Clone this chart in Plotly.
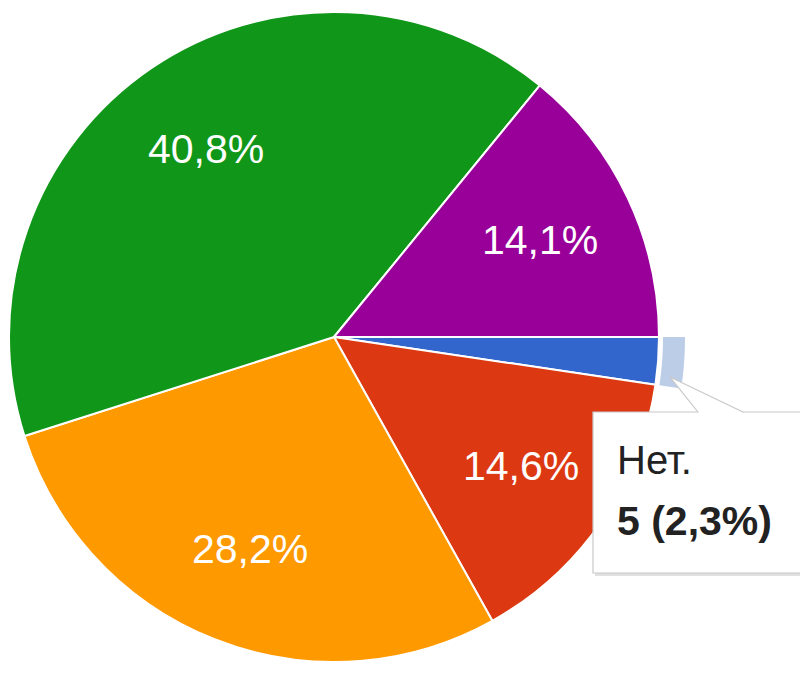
import math
import plotly.graph_objects as go

# ---- data ----
labels = ["Нет.", "Вариант 2", "Вариант 3", "Вариант 4", "Вариант 5"]
counts = [5, 31, 60, 87, 30]
colors = ["#3366cc", "#dc3912", "#ff9900", "#109618", "#990099"]
highlight_index = 0  # slice with tooltip ("Нет.")

W, H = 808, 678
OFF = 8                      # page body margin of the html page
CX, CY, R = 334, 337, 325    # pie centre / radius in screen px
LABEL_FRAC = 0.70
FONT = "Arial, Liberation Sans, sans-serif"

total = sum(counts)
fracs = [c / total for c in counts]


def px(x, y):
    """screen px -> paper coords"""
    return (x - OFF) / W, 1 - (y - OFF) / H


fig = go.Figure()
fig.add_trace(go.Pie(
    labels=labels,
    values=counts,
    sort=False,
    direction="clockwise",
    rotation=90,
    marker=dict(colors=colors, line=dict(color="white", width=2)),
    textinfo="none",
    hoverinfo="skip",
    showlegend=False,
    domain=dict(x=[px(CX - R, 0)[0], px(CX + R, 0)[0]],
                y=[px(0, CY + R)[1], px(0, CY - R)[1]]),
))

# percentage labels at the middle angle of each slice
cum = 0.0
for f in fracs:
    mid = math.radians((cum + f / 2) * 360)  # clockwise from 3 o'clock
    cum += f
    if f < 0.05:
        continue
    lx = CX + LABEL_FRAC * R * math.cos(mid)
    ly = CY + LABEL_FRAC * R * math.sin(mid)
    x, y = px(lx, ly)
    fig.add_annotation(x=x, y=y, xref="paper", yref="paper", showarrow=False,
                       xanchor="center", yanchor="middle",
                       text=f"{f * 100:.1f}%".replace(".", ","),
                       font=dict(family=FONT, size=41, color="white"))

# highlight ring around the selected slice (angles derived from data)
start = sum(fracs[:highlight_index]) * 360
end = start + fracs[highlight_index] * 360
r_in, r_out = R + 4, R + 26
pts = []
n = 12
for i in range(n + 1):
    a = math.radians(start + (end - start) * i / n)
    pts.append((CX + r_out * math.cos(a), CY + r_out * math.sin(a)))
for i in range(n, -1, -1):
    a = math.radians(start + (end - start) * i / n)
    pts.append((CX + r_in * math.cos(a), CY + r_in * math.sin(a)))
path = "M " + " L ".join("{:.5f},{:.5f}".format(*px(x, y)) for x, y in pts) + " Z"
fig.add_shape(type="path", path=path, xref="paper", yref="paper",
              fillcolor="#bccde8", line=dict(width=0))

# tooltip box
bx0, by0, bx1, by1 = 593, 412, 803, 573
fig.add_shape(type="rect", xref="paper", yref="paper",
              x0=px(bx0 + 2, 0)[0], x1=px(bx1 + 2, 0)[0],
              y0=px(0, by1 + 3)[1], y1=px(0, by0 + 3)[1],
              fillcolor="rgba(0,0,0,0.12)", line=dict(width=0))
fig.add_shape(type="rect", xref="paper", yref="paper",
              x0=px(bx0, 0)[0], x1=px(bx1, 0)[0],
              y0=px(0, by1)[1], y1=px(0, by0)[1],
              fillcolor="white", line=dict(color="#c8c8c8", width=1.2))
# pointer
apex = (670, 377)
bl, br = (698, by0), (743, by0)
tri = "M {:.5f},{:.5f} L {:.5f},{:.5f} L {:.5f},{:.5f}".format(*px(*bl), *px(*apex), *px(*br))
fig.add_shape(type="path", path=tri + " Z", xref="paper", yref="paper",
              fillcolor="white", line=dict(width=0))
fig.add_shape(type="path",
              path="M {:.5f},{:.5f} L {:.5f},{:.5f}".format(*px(bl[0] + 1, by0 + 1), *px(br[0] - 1, by0 + 1)),
              xref="paper", yref="paper", line=dict(color="white", width=3))
fig.add_shape(type="path", path=tri, xref="paper", yref="paper",
              line=dict(color="#c8c8c8", width=1.2))

pct = fracs[highlight_index] * 100
fig.add_annotation(x=px(615, 0)[0], y=px(0, 460)[1], xref="paper", yref="paper",
                   xanchor="left", yanchor="middle", showarrow=False,
                   text=labels[highlight_index],
                   font=dict(family=FONT, size=40, color="#222222"))
fig.add_annotation(x=px(615, 0)[0], y=px(0, 521)[1], xref="paper", yref="paper",
                   xanchor="left", yanchor="middle", showarrow=False,
                   text=f"<b>{counts[highlight_index]} ({pct:.1f}%)</b>".replace(".", ","),
                   font=dict(family=FONT, size=41, color="#222222"))

fig.update_layout(
    width=W, height=H,
    margin=dict(l=0, r=0, t=0, b=0),
    paper_bgcolor="white",
    plot_bgcolor="white",
    separators=", ",
)

fig.write_html("out.html")
